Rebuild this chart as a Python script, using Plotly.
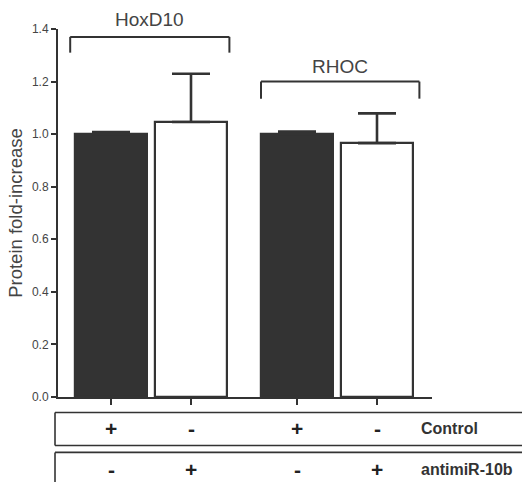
import plotly.graph_objects as go

# ---- data ----
genes = ["HoxD10", "RHOC"]
conditions = ["Control", "antimiR-10b"]
values = [1.0, 1.046, 1.0, 0.966]
errors = [0.008, 0.184, 0.01, 0.113]
control_marks = ["+", "-", "+", "-"]
antimir_marks = ["-", "+", "-", "+"]
y_ticks = [0.0, 0.2, 0.4, 0.6, 0.8, 1.0, 1.2, 1.4]

# ---- layout helpers ----
GROUP_STEP = 2.325
xpos = [g * GROUP_STEP + i for g in range(2) for i in range(2)]
colors = ["#333333", "#ffffff", "#333333", "#ffffff"]
YMAX = 1.4
DARK = "#333333"
FONT = "Arial, Liberation Sans, sans-serif"

def py(v):
    return v / YMAX

fig = go.Figure()
fig.add_trace(go.Bar(
    x=xpos, y=values, width=0.9,
    marker=dict(color=colors, line=dict(color=DARK, width=2.2)),
    error_y=dict(type="data", array=errors, arrayminus=[0] * 4, symmetric=False,
                 color=DARK, thickness=2.6, width=19),
    showlegend=False,
))

shapes = []
annotations = []
# brackets
brackets = [
    (genes[0], xpos[0] - 0.51, xpos[1] + 0.48, 1.37, 1.31, 1.435),
    (genes[1], xpos[2] - 0.45, xpos[3] + 0.53, 1.20, 1.135, 1.257),
]
for name, x0, x1, ytop, ybot, ylab in brackets:
    for (a, b, c, d) in [(x0, ytop, x1, ytop), (x0, ytop, x0, ybot), (x1, ytop, x1, ybot)]:
        shapes.append(dict(type="line", xref="x", yref="paper", x0=a, y0=py(b), x1=c, y1=py(d),
                           line=dict(color=DARK, width=2)))
    annotations.append(dict(x=(x0 + x1) / 2, y=py(ylab), xref="x", yref="paper", text=name,
                            xanchor="center", yanchor="middle",
                            showarrow=False, font=dict(family=FONT, size=19, color="#444444")))

# table rows (paper coords)
rows = [(-0.042, -0.1316, control_marks, conditions[0], -0.0868),
        (-0.1506, -0.25, antimir_marks, conditions[1], -0.197)]
for top, bot, marks, label, ymid in rows:
    shapes.append(dict(type="line", xref="paper", yref="paper", x0=-0.008, x1=1.25, y0=top, y1=top,
                       line=dict(color=DARK, width=1.6)))
    shapes.append(dict(type="line", xref="paper", yref="paper", x0=-0.008, x1=1.25, y0=bot, y1=bot,
                       line=dict(color=DARK, width=1.6)))
    shapes.append(dict(type="line", xref="paper", yref="paper", x0=-0.008, x1=-0.008, y0=top, y1=bot,
                       line=dict(color=DARK, width=1.6)))
    for xp, m in zip(xpos, marks):
        annotations.append(dict(x=xp, y=ymid, xref="x", yref="paper", text="<b>%s</b>" % m,
                                xanchor="center", yanchor="middle",
                                showarrow=False, font=dict(family=FONT, size=21, color="#222222")))
    annotations.append(dict(x=0.964, y=ymid, xref="paper", yref="paper", text="<b>%s</b>" % label,
                            xanchor="left", yanchor="middle", showarrow=False,
                            font=dict(family=FONT, size=16, color="#333333")))

fig.update_layout(
    width=522, height=482,
    margin=dict(l=58, r=90, t=29, b=84.5),
    paper_bgcolor="white", plot_bgcolor="white",
    shapes=shapes, annotations=annotations,
    font=dict(family=FONT),
    bargap=0,
)
fig.update_xaxes(range=[-0.6625, 4.0125], tickvals=xpos, ticktext=[""] * 4,
                 ticks="outside", ticklen=6, tickwidth=1.6, tickcolor=DARK,
                 showline=True, linecolor=DARK, linewidth=2, showgrid=False, zeroline=False,
                 fixedrange=True)
fig.update_yaxes(range=[0, YMAX], tickvals=y_ticks, ticktext=["%.1f" % t for t in y_ticks],
                 ticks="outside", ticklen=5, tickwidth=1.6, tickcolor=DARK,
                 showline=True, linecolor=DARK, linewidth=2, showgrid=False, zeroline=False,
                 tickfont=dict(family=FONT, size=12, color="#444444"),
                 title=dict(text="Protein fold-increase", font=dict(family=FONT, size=18.5, color="#444444"),
                            standoff=4))
fig.write_html("out.html")
